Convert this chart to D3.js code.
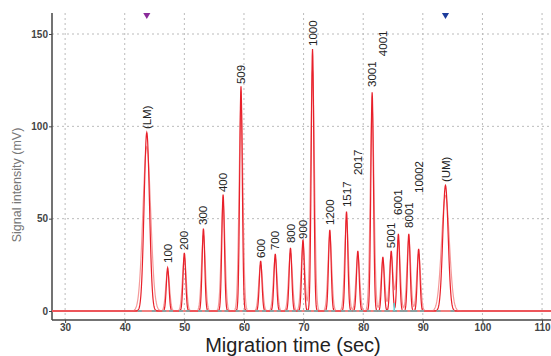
<!DOCTYPE html>
<html lang="en">
<head>
  <meta charset="UTF-8">
  <script src="https://cdn.jsdelivr.net/npm/d3@7/dist/d3.min.js"></script>
  <title>electropherogram</title>
  <style>
    * { margin: 0; padding: 0; }
    html, body { width: 100%; height: 100%; background: #fff; }
    svg { display: block; font-family: Arial, "Liberation Sans", sans-serif; }
  </style>
</head>
<body>
<div id="box"></div>
<script>
  // peak names (bp / markers)
  var names = ['(LM)', '100', '200', '300', '400', '509', '600', '700', '800', '900', '1000',
    '1200', '1517', '2017', '3001', '4001', '5001', '6001', '8001', '10002', '(UM)']
  // migration time of each peak (sec)
  var migTime = [43.7, 47.2, 50.0, 53.2, 56.5, 59.5, 62.8, 65.25, 67.8, 69.9, 71.5,
    74.4, 77.2, 79.1, 81.5, 83.3, 84.7, 85.9, 87.65, 89.3, 93.8]
  // signal intensity at apex (mV)
  var signal = [96.7, 23.4, 31.5, 44.6, 63, 121.7, 27.2, 31, 34.2, 38.6, 141.8,
    44, 53.8, 32.6, 118.5, 29.3, 32.6, 41.8, 41.8, 33.7, 68]
  // level (mV) where each peak label starts
  var labelAt = [98.5, 26, 33, 46.6, 64.4, 122.9, 28.7, 33, 36.8, 39, 143.5,
    46.6, 56.3, 73.6, 121.3, 138, 34, 52, 45, 63.9, 69.8]
  var xTicks = [30, 40, 50, 60, 70, 80, 90, 100, 110]
  var yTicks = [0, 50, 100, 150]

  var width = 551
  var height = 356
  var svg = d3.select('#box').append('svg')
    .attr('width', width)
    .attr('height', height)

  var x = d3.scaleLinear().domain([27.8, 111.5]).range([52, 551])
  var y = d3.scaleLinear().domain([0, 150]).range([311, 34])
  var axisY = 320
  var topY = 13

  // grid
  svg.append('g').selectAll('line').data(xTicks).enter().append('line')
    .attr('x1', function (d) { return x(d) }).attr('x2', function (d) { return x(d) })
    .attr('y1', topY).attr('y2', axisY)
    .attr('stroke', '#bbb').attr('stroke-dasharray', '2,3')
  svg.append('g').selectAll('line').data(yTicks.slice(1)).enter().append('line')
    .attr('x1', 52).attr('x2', width)
    .attr('y1', function (d) { return y(d) }).attr('y2', function (d) { return y(d) })
    .attr('stroke', '#bbb').attr('stroke-dasharray', '2,3')

  // axes
  var xaxis = d3.axisBottom(x).tickValues(xTicks).tickSize(3).tickPadding(1)
  var gx = svg.append('g').attr('transform', 'translate(0,' + axisY + ')').call(xaxis)
  var yaxis = d3.axisLeft(y).tickValues(yTicks).tickSize(3).tickPadding(1)
  var gy = svg.append('g').attr('transform', 'translate(52,0)').call(yaxis)
  gx.select('.domain').remove()
  gy.select('.domain').remove()
  svg.append('line').attr('x1', 52).attr('x2', width).attr('y1', axisY).attr('y2', axisY)
    .attr('stroke', '#444').attr('stroke-width', 1.5)
  svg.append('line').attr('x1', 52).attr('x2', 52).attr('y1', topY).attr('y2', axisY)
    .attr('stroke', '#444').attr('stroke-width', 1.5)
  svg.selectAll('.tick line').attr('stroke', '#444')
  svg.selectAll('.tick text').attr('font-size', 10).attr('font-weight', 'bold')
    .attr('fill', '#444').attr('font-family', 'Arial, "Liberation Sans", sans-serif')

  // trace built from the peak list
  function trace(widen, scaleH) {
    var pts = []
    for (var t = 27.8; t <= 111.5; t += 0.05) {
      var v = 0
      for (var i = 0; i < migTime.length; i++) {
        var s = (names[i][0] === '(' ? 0.45 : 0.22) * widen
        v += signal[i] * scaleH * Math.exp(-0.5 * Math.pow((t - migTime[i]) / s, 2))
      }
      pts.push([t, v])
    }
    return pts
  }
  var line = d3.line()
    .x(function (d) { return x(d[0]) })
    .y(function (d) { return y(d[1]) })

  // baseline
  svg.append('line').attr('x1', 52).attr('x2', width).attr('y1', y(0)).attr('y2', y(0))
    .attr('stroke', '#f08080').attr('stroke-width', 2.2)
  svg.append('path').datum(trace(1.45, 0.92)).attr('d', line)
    .attr('fill', 'none').attr('stroke', '#f59a9a').attr('stroke-width', 1.2)
  svg.append('path').datum(trace(1, 1)).attr('d', line)
    .attr('fill', 'none').attr('stroke', '#e8202a').attr('stroke-width', 1.2)

  // peak foot markers
  svg.append('g').selectAll('rect').data(migTime.concat(migTime)).enter().append('rect')
    .attr('x', function (d, i) {
      var k = i % migTime.length
      var s = names[k][0] === '(' ? 0.45 : 0.22
      return x(d + (i < migTime.length ? -2.6 : 2.6) * s) - 2
    })
    .attr('y', y(0) - 1).attr('width', 4).attr('height', 2)
    .attr('fill', '#8aa0a0')
  svg.append('line').attr('x1', x(85.2)).attr('x2', x(85.2))
    .attr('y1', y(0)).attr('y2', y(0) - 8).attr('stroke', '#5cd6d6').attr('stroke-width', 1.5)

  // peak labels
  svg.append('g').selectAll('text').data(names).enter().append('text')
    .attr('transform', function (d, i) {
      return 'translate(' + x(migTime[i]) + ',' + y(labelAt[i]) + ') rotate(-90)'
    })
    .attr('dy', '0.35em')
    .attr('font-size', 11.5)
    .attr('fill', '#222')
    .text(function (d) { return d })

  // size marker triangles
  var tri = d3.symbol().type(d3.symbolTriangle).size(22)
  svg.append('path').attr('d', tri)
    .attr('transform', 'translate(' + x(migTime[0]) + ',15) rotate(180)').attr('fill', '#8a2a9a')
  svg.append('path').attr('d', tri)
    .attr('transform', 'translate(' + x(migTime[migTime.length - 1]) + ',15) rotate(180)').attr('fill', '#1c3c9c')

  // titles
  svg.append('text').attr('transform', 'translate(21,185) rotate(-90)')
    .attr('text-anchor', 'middle').attr('font-size', 12.5).attr('fill', '#777')
    .text('Signal intensity (mV)')
  svg.append('text').attr('x', 293).attr('y', 352)
    .attr('text-anchor', 'middle').attr('font-size', 20).attr('fill', '#222')
    .text('Migration time (sec)')
</script>
</body>
</html>
